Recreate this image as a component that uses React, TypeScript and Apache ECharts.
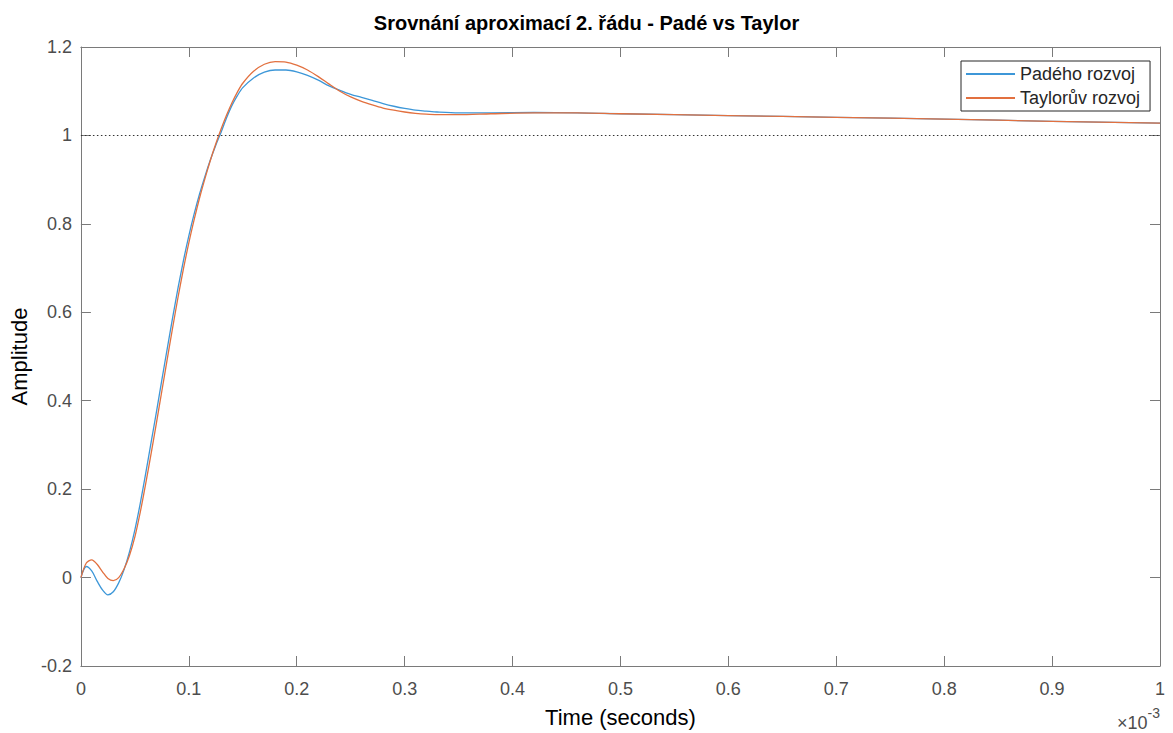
import React, { useEffect, useRef } from "react";
import * as echarts from "echarts";

const timeMs: number[] = [
  0, 0.005, 0.01, 0.015, 0.02, 0.025, 0.03, 0.035, 0.04, 0.045, 0.05, 0.055, 0.06, 0.065, 0.07,
  0.075, 0.08, 0.085, 0.09, 0.095, 0.1, 0.105, 0.11, 0.115, 0.12, 0.125, 0.13, 0.135, 0.14,
  0.145, 0.15, 0.16, 0.17, 0.18, 0.19, 0.2, 0.21, 0.22, 0.23, 0.24, 0.25, 0.26, 0.27, 0.28,
  0.29, 0.3, 0.31, 0.32, 0.33, 0.35, 0.38, 0.42, 0.46, 0.5, 0.6, 0.7, 0.8, 0.9, 1.0,
];

const padeValues: number[] = [
  0, 0.025, 0.015, -0.008, -0.028, -0.039, -0.032, -0.012, 0.018, 0.058, 0.108, 0.168, 0.235,
  0.305, 0.375, 0.447, 0.518, 0.588, 0.655, 0.717, 0.773, 0.823, 0.868, 0.908, 0.945, 0.978,
  1.008, 1.04, 1.068, 1.09, 1.108, 1.13, 1.143, 1.148, 1.148, 1.144, 1.136, 1.125, 1.112,
  1.102, 1.093, 1.086, 1.079, 1.072, 1.066, 1.061, 1.057, 1.055, 1.053, 1.051, 1.051, 1.052,
  1.051, 1.049, 1.045, 1.041, 1.037, 1.032, 1.028,
];

const taylorValues: number[] = [
  0, 0.033, 0.04, 0.03, 0.013, -0.002, -0.007, 0.0, 0.02, 0.05, 0.092, 0.148, 0.212, 0.28,
  0.35, 0.422, 0.494, 0.565, 0.634, 0.698, 0.757, 0.81, 0.859, 0.903, 0.944, 0.981, 1.015,
  1.046, 1.074, 1.098, 1.118, 1.145, 1.161, 1.167, 1.166, 1.159, 1.148, 1.133, 1.116, 1.1,
  1.087, 1.077, 1.069, 1.062, 1.057, 1.053, 1.05, 1.048, 1.047, 1.047, 1.049, 1.051, 1.051,
  1.049, 1.045, 1.041, 1.037, 1.032, 1.028,
];

const seriesNames: string[] = ["Padého rozvoj", "Taylorův rozvoj"];
const referenceLevel = 1;

const FONT = "'Liberation Sans', Arial, Helvetica, sans-serif";
const AXIS_COLOR = "#7a7a7a";
const TEXT_COLOR = "#4d4d4d";

const fmt = (v: number) => String(Number(v.toFixed(1)));

export default function App() {
  const ref = useRef<HTMLDivElement>(null);
  useEffect(() => {
    if (!ref.current) return;
    const chart = echarts.init(ref.current, undefined, { renderer: "svg" });
    const grid = { left: 79, right: 13, top: 47, bottom: 64 };
    const axisCommon = {
      type: "value" as const,
      axisLine: { show: true, onZero: false, lineStyle: { color: AXIS_COLOR, width: 1 } },
      axisTick: { show: true, inside: true, length: 10, lineStyle: { color: AXIS_COLOR, width: 1 } },
      splitLine: { show: false },
    };
    chart.setOption({
      animation: false,
      backgroundColor: "#ffffff",
      title: {
        text: "Srovnání aproximací 2. řádu - Padé vs Taylor",
        left: "center",
        top: 8,
        textStyle: { fontFamily: FONT, fontSize: 20, fontWeight: "bold", color: "#000" },
      },
      grid,
      legend: {
        data: seriesNames,
        orient: "vertical",
        left: 961,
        top: 61,
        padding: [4, 10, 4, 5],
        itemGap: 6,
        itemWidth: 49,
        itemHeight: 2,
        icon: "rect",
        borderColor: "#262626",
        borderWidth: 1,
        backgroundColor: "#ffffff",
        textStyle: { fontFamily: FONT, fontSize: 18, color: "#262626", lineHeight: 18 },
      },
      xAxis: [
        {
          ...axisCommon,
          position: "bottom",
          min: 0,
          max: 1,
          interval: 0.1,
          name: "Time (seconds)",
          nameLocation: "middle",
          nameGap: 40,
          nameTextStyle: { fontFamily: FONT, fontSize: 22, color: "#000" },
          axisLabel: { fontFamily: FONT, fontSize: 18, color: TEXT_COLOR, margin: 14, formatter: fmt },
        },
        {
          ...axisCommon,
          position: "top",
          min: 0,
          max: 1,
          interval: 0.1,
          axisLabel: { show: false },
        },
      ],
      yAxis: [
        {
          ...axisCommon,
          position: "left",
          min: -0.2,
          max: 1.2,
          interval: 0.2,
          name: "Amplitude",
          nameLocation: "middle",
          nameGap: 50,
          nameTextStyle: { fontFamily: FONT, fontSize: 22, color: "#000" },
          axisLabel: { fontFamily: FONT, fontSize: 18, color: TEXT_COLOR, margin: 9, formatter: fmt },
        },
        {
          ...axisCommon,
          position: "right",
          min: -0.2,
          max: 1.2,
          interval: 0.2,
          axisLabel: { show: false },
        },
      ],
      graphic: [
        {
          type: "text",
          right: 13,
          top: 706,
          style: {
            text: "{a|×10}{b|-3}",
            rich: {
              a: { fontFamily: FONT, fontSize: 18, fill: TEXT_COLOR, verticalAlign: "bottom", padding: [8, 0, 0, 0] },
              b: { fontFamily: FONT, fontSize: 14, fill: TEXT_COLOR, verticalAlign: "top", padding: [0, 0, 10, 0] },
            },
          },
        },
      ],
      series: [
        {
          name: seriesNames[0],
          type: "line",
          showSymbol: false,
          symbol: "none",
          smooth: 0.3,
          color: "#3d97d8",
          lineStyle: { width: 1.3, color: "#3d97d8" },
          data: timeMs.map((t, i) => [t, padeValues[i]]),
          markLine: {
            silent: true,
            symbol: "none",
            label: { show: false },
            lineStyle: { type: [1.5, 2.5], color: "#333333", width: 1 },
            data: [{ yAxis: referenceLevel }],
          },
          z: 3,
        },
        {
          name: seriesNames[1],
          type: "line",
          showSymbol: false,
          symbol: "none",
          smooth: 0.3,
          color: "#e2703f",
          lineStyle: { width: 1.3, color: "#e2703f" },
          data: timeMs.map((t, i) => [t, taylorValues[i]]),
          z: 4,
        },
      ],
    });
    return () => chart.dispose();
  }, []);
  return (
    <div
      ref={ref}
      style={{ position: "fixed", left: 0, top: 0, width: 1173, height: 733, background: "#fff" }}
    />
  );
}
